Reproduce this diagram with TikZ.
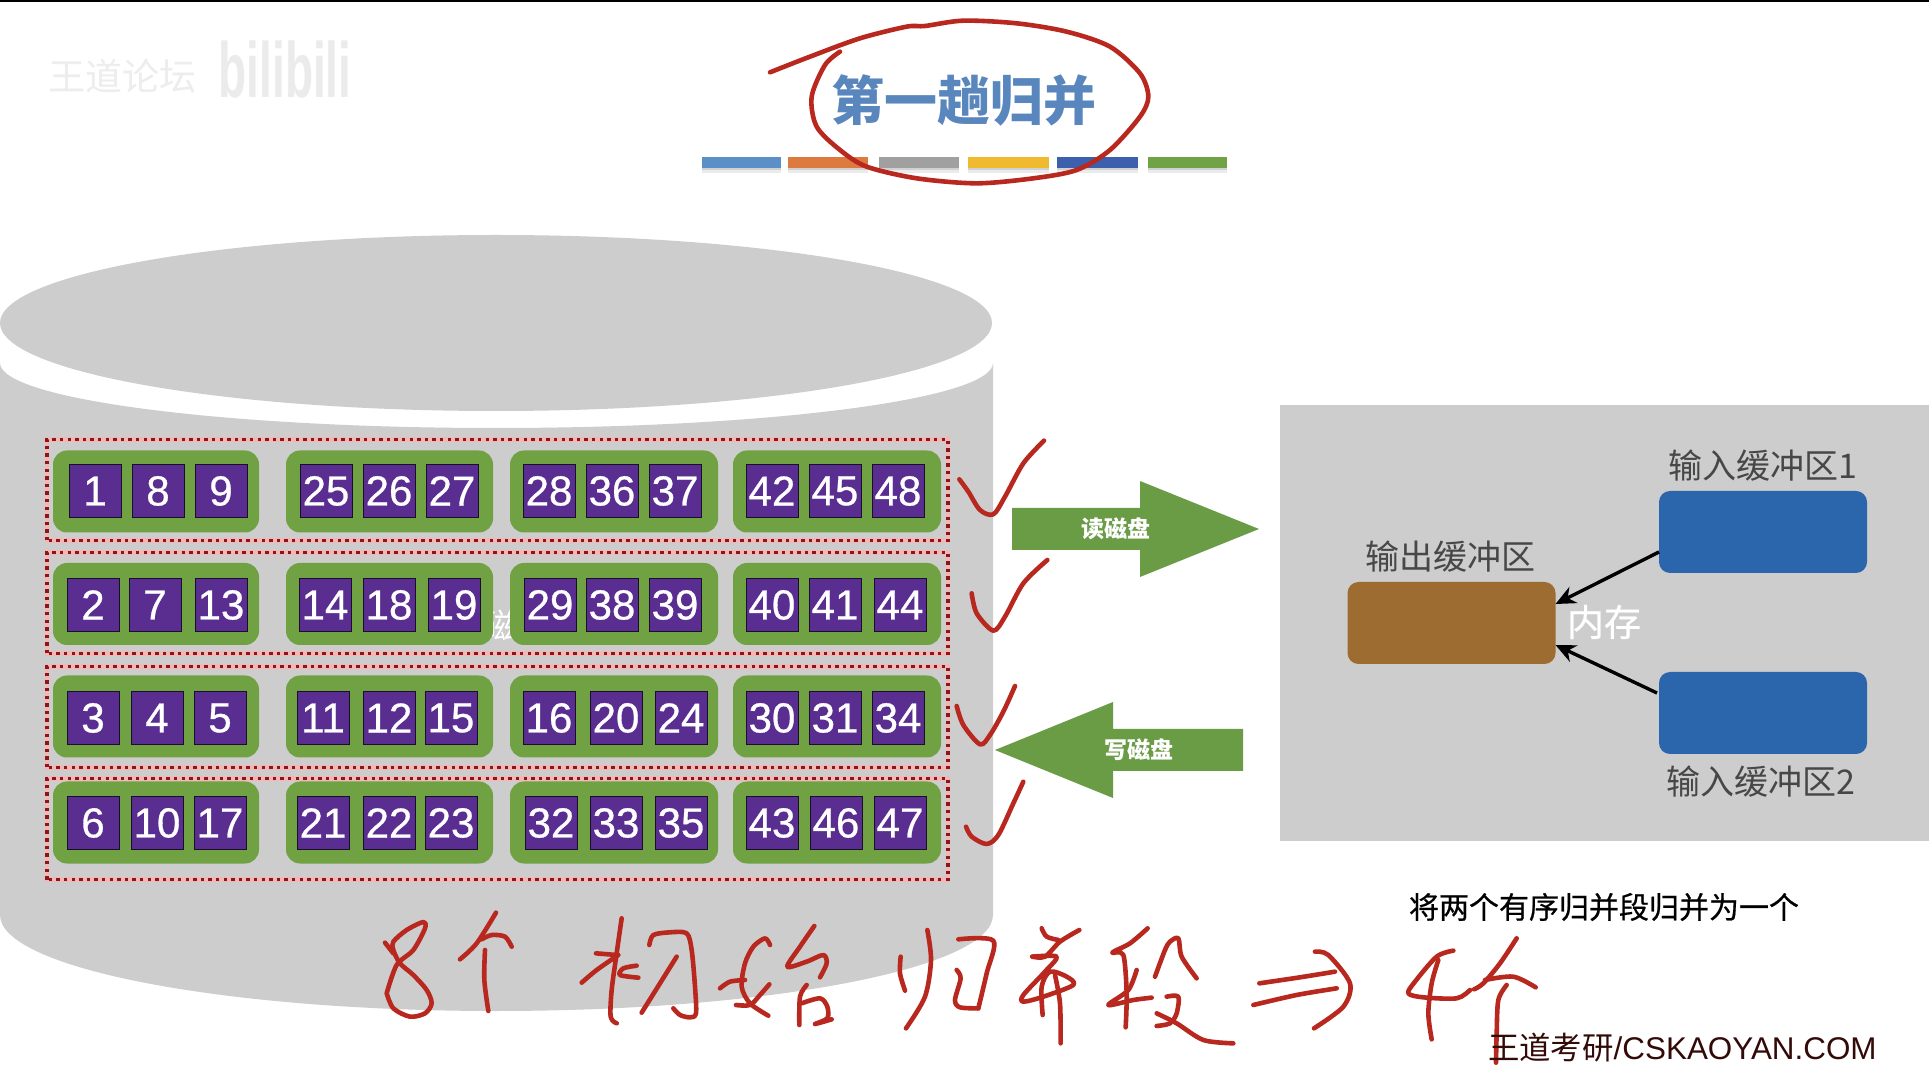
\documentclass[tikz,border=0pt]{standalone}
\usepackage{fontspec}
\usetikzlibrary{calc,arrows.meta}
\setmainfont{Liberation Sans}
\newfontfamily\digitfont[FakeBold=0.7]{Liberation Sans}
\newfontfamily\cjk{Noto Sans CJK SC}
\newfontfamily\cjkmid[FakeBold=0.6]{Noto Sans CJK SC}
\definecolor{diskgrey}{HTML}{CDCDCD}
\definecolor{groupgreen}{HTML}{70A244}
\definecolor{arrowgreen}{HTML}{6A9C46}
\definecolor{cellpurple}{HTML}{5A2D91}
\definecolor{inkred}{HTML}{B8281E}
\definecolor{dotred}{HTML}{8E1418}
\definecolor{halopink}{HTML}{F2B8B8}
\definecolor{bufblue}{HTML}{2B66AC}
\definecolor{bufbrown}{HTML}{9C6C30}
\definecolor{titleblue}{HTML}{5A86BE}
\tikzset{
  x=0.5pt,y=-0.5pt,
  sized/.style 2 args={minimum width=#1*0.5pt,minimum height=#2*0.5pt,inner sep=0pt,outer sep=0pt},
  cell/.style={sized={52}{53},fill=cellpurple,draw=black!70!cellpurple,line width=0.5pt,text=white,font=\digitfont\fontsize{21}{21}\selectfont},
  groupbox/.style={sized={#1}{82},fill=groupgreen,rounded corners=7pt},
  rowbox/.style={sized={901}{101}},
  bufbox/.style={sized={208}{82},rounded corners=5.5pt},
  buflabel/.style={text=black!72,font=\cjk\fontsize{17}{17}\selectfont,inner sep=0pt},
  arrowlabel/.style={text=white,font=\cjk\bfseries\fontsize{11.5}{12}\selectfont,inner sep=0pt},
  feed/.style={draw=black,line width=1.7pt,-{Stealth[length=10pt,width=9pt]}},
  ink/.style={draw=inkred,line width=2.3pt,line cap=round,line join=round},
  bigarrow/.style={fill=arrowgreen},
}
\newcommand{\inkstroke}[1]{\draw[ink] plot[smooth] coordinates {#1};}
\begin{document}
\begin{tikzpicture}
\useasboundingbox (0,0) rectangle (1929,1079);
\fill[white] (0,0) rectangle (1929,1079);
\fill[black] (0,0) rectangle (1929,2);

% faint corner watermark
\node[text=black!7,font=\cjk\fontsize{18.5}{19}\selectfont,inner sep=0pt] (wmforum) at (122,76) {王道论坛};
\node[text=black!8,font=\bfseries\fontsize{23}{23}\selectfont,inner sep=0pt,yscale=1.7] (wmbili) at (285,70) {bilibili};

% title and colour bars
\node[text=titleblue,font=\cjk\bfseries\fontsize{26.5}{27}\selectfont,inner sep=0pt] (title) at (964,100) {第一趟归并};
\foreach \xa/\xb/\c in {702/781/5B8FC8,788/868/DD7A40,879/959/A0A0A0,968/1049/F0BA2E,1057/1138/3C60AE,1148/1227/6FA345}{
  \definecolor{barc}{HTML}{\c}
  \fill[black!8] (\xa,168) rectangle (\xb,173);
  \fill[black!18] (\xa,168) rectangle (\xb,170.5);
  \fill[barc] (\xa,157) rectangle (\xb,168);
}

% disk
\fill[diskgrey] (0,363) .. controls (0,399) and (222,428) .. (496,428)
   .. controls (770,428) and (993,399) .. (993,363)
   -- (993,915) .. controls (993,968) and (770,1011) .. (496,1011)
   .. controls (222,1011) and (0,968) .. (0,915) -- cycle;
\fill[diskgrey] (496,323) ellipse [x radius=248pt,y radius=44pt];
\node[text=white,font=\cjk\fontsize{17}{17}\selectfont,inner sep=0pt] (diskword) at (500,625) {磁};

% dotted rows
\foreach \n/\y in {1/490,2/603,3/717,4/829}{
  \node[rowbox] (row\n) at (497.5,\y) {};
  \draw[halopink,line width=2.2pt] (row\n.south west) rectangle (row\n.north east);
  \draw[dotred,line width=1.7pt,dash pattern=on 1.7pt off 2.1pt] (row\n.south west) rectangle (row\n.north east);
}

% green groups
\foreach \n/\y in {1/491.5,2/604,3/716.5,4/822.5}{
  \node[groupbox=206] (gr\n a) at (156,\y) {};
  \node[groupbox=207] (gr\n b) at (389.5,\y) {};
  \node[groupbox=208] (gr\n c) at (614,\y) {};
  \node[groupbox=208] (gr\n d) at (837,\y) {};
}

% cells
\foreach \x/\t in {95/1,158/8,221/9,326/25,389/26,452/27,549/28,612/36,675/37,772/42,835/45,898/48}
  \node[cell] (c\t) at (\x,491) {\t};
\foreach \x/\t in {93/2,155/7,221/13,325/14,389/18,454/19,550/29,612/38,675/39,772/40,835/41,900/44}
  \node[cell] (c\t) at (\x,605) {\t};
\foreach \x/\t in {93/3,157/4,220/5,323/11,389/12,451/15,549/16,616/20,681/24,772/30,835/31,898/34}
  \node[cell] (c\t) at (\x,718) {\t};
\foreach \x/\t in {93/6,157/10,220/17,323/21,389/22,451/23,551/32,616/33,681/35,772/43,836/46,900/47}
  \node[cell] (c\t) at (\x,823) {\t};

% read / write arrows
\fill[bigarrow] (1012,508) -- (1140,508) -- (1140,481) -- (1259,529) -- (1140,577) -- (1140,550) -- (1012,550) -- cycle;
\node[arrowlabel] (readlabel) at (1116,529) {读磁盘};
\fill[bigarrow] (1243,729) -- (1113,729) -- (1113,702) -- (995,750) -- (1113,798) -- (1113,771) -- (1243,771) -- cycle;
\node[arrowlabel] (writelabel) at (1139,750) {写磁盘};

% memory panel
\fill[diskgrey] (1280,405) rectangle (1929,841);
\node[bufbox,fill=bufblue] (inone) at (1763,532) {};
\node[bufbox,fill=bufblue] (intwo) at (1763,713) {};
\node[bufbox,fill=bufbrown] (outbuf) at (1451.5,623) {};
\node[buflabel] (inonelabel) at (1763,466) {输入缓冲区1};
\node[buflabel] (outlabel) at (1450,557) {输出缓冲区};
\node[buflabel] (intwolabel) at (1761,782) {输入缓冲区2};
\node[text=white,font=\cjkmid\fontsize{18.5}{19}\selectfont,inner sep=0pt] (memlabel) at (1604,622) {内存};
\draw[feed] ($(inone.west)+(0,20)$) -- ($(outbuf.east)+(0,-19)$);
\draw[feed] ($(intwo.west)+(-2,-20)$) -- ($(outbuf.east)+(0,22)$);

\node[text=black,font=\cjkmid\fontsize{15}{15}\selectfont,inner sep=0pt] (caption) at (1604,907) {将两个有序归并段归并为一个};

% handwriting: title circle
\begin{scope}[shift={(750,0)},scale=1/3]
\inkstroke{(270,155)(225,195)(185,290)(200,380)(270,450)(350,500)(500,535)(680,550)(850,535)(980,510)(1080,450)(1170,350)(1195,290)(1170,220)(1080,140)(950,95)(800,70)(640,62)(525,78)(470,80)(330,115)(180,170)(60,217)}
\end{scope}
% check marks
\begin{scope}[shift={(930,420)},scale=1/3]
\inkstroke{(88,178)(115,215)(150,270)(190,283)(225,230)(280,130)(342,62)}
\inkstroke{(125,520)(140,580)(190,632)(225,590)(280,490)(352,420)}
\end{scope}
\begin{scope}[shift={(930,660)},scale=1/3]
\inkstroke{(80,138)(100,195)(150,253)(180,225)(220,155)(255,78)}
\inkstroke{(108,500)(125,530)(170,552)(205,525)(250,430)(280,365)}
\end{scope}
% 8 个 初 始
\begin{scope}[shift={(370,900)},scale=1/3]
\inkstroke{(50,280)(80,195)(130,150)(165,85)(160,66)(110,90)(70,125)(70,150)(90,190)(130,225)(170,270)(185,310)(165,340)(120,350)(70,325)(50,280)}
\inkstroke{(45,128)(70,160)}
\inkstroke{(270,178)(320,130)(378,38)}
\inkstroke{(335,118)(365,105)(405,110)(425,140)}
\inkstroke{(345,150)(343,240)(355,333)}
\inkstroke{(755,55)(740,160)(725,270)(722,350)(740,370)}
\inkstroke{(678,160)(740,165)}
\inkstroke{(635,248)(680,210)(745,165)}
\inkstroke{(800,197)(760,205)(750,225)(805,233)}
\inkstroke{(838,135)(850,105)(900,97)(950,100)(965,150)(975,260)(978,340)(960,352)(930,345)(910,325)}
\inkstroke{(815,338)(870,250)(920,170)}
\inkstroke{(1200,135)(1185,115)(1150,140)(1125,190)(1115,260)(1140,310)(1195,347)}
\inkstroke{(1050,265)(1080,245)(1125,240)}
\inkstroke{(1098,315)(1140,315)(1170,285)(1198,253)}
\inkstroke{(1333,78)(1290,140)(1252,200)(1310,185)(1360,165)(1370,190)(1350,232)}
\inkstroke{(1310,255)(1290,290)(1288,375)}
\inkstroke{(1295,310)(1350,295)(1372,320)(1372,355)(1335,372)(1385,358)}
\end{scope}
% 归 并 段 =>
\begin{scope}[shift={(870,900)},scale=1/3]
\inkstroke{(92,170)(90,220)(105,272)}
\inkstroke{(172,90)(183,180)(165,290)(108,385)}
\inkstroke{(265,118)(370,122)(350,220)(325,325)}
\inkstroke{(260,210)(272,235)(255,300)(270,322)(325,325)}
\inkstroke{(515,85)(530,110)(565,120)}
\inkstroke{(628,90)(570,125)(525,170)(487,170)}
\inkstroke{(487,170)(560,170)(525,215)(460,285)(460,305)(520,290)(610,255)(590,230)(540,215)(515,260)(518,345)}
\inkstroke{(555,225)(570,310)(572,430)}
\inkstroke{(833,85)(780,130)(727,158)(760,165)(770,280)(767,382)}
\inkstroke{(800,210)(775,270)(715,315)(790,300)(845,293)}
\inkstroke{(855,230)(885,150)(900,125)(925,115)(935,170)(980,235)}
\inkstroke{(890,290)(925,290)(920,340)(900,370)(860,378)}
\inkstroke{(860,340)(920,370)(1000,420)(1090,430)}
\inkstroke{(1168,250)(1290,232)(1395,215)}
\inkstroke{(1150,315)(1280,285)(1400,265)}
\inkstroke{(1335,155)(1375,165)(1440,250)(1420,320)(1332,385)}
\end{scope}
% 4 个
\begin{scope}[shift={(1370,900)},scale=1/3]
\inkstroke{(250,152)(200,170)(135,245)(115,280)(160,292)(260,295)(300,270)}
\inkstroke{(205,180)(185,250)(175,340)(185,418)}
\inkstroke{(440,115)(390,190)(340,250)(312,268)}
\inkstroke{(345,240)(430,230)(497,262)}
\inkstroke{(410,255)(385,300)(380,400)(378,488)}
\end{scope}

\node[anchor=east,text=black!55!inkred!60!black,font=\fontsize{15.7}{16}\selectfont,inner sep=0pt] (site) at (1877,1048) {{\cjk 王道考研}/CSKAOYAN.COM};
\end{tikzpicture}
\end{document}
